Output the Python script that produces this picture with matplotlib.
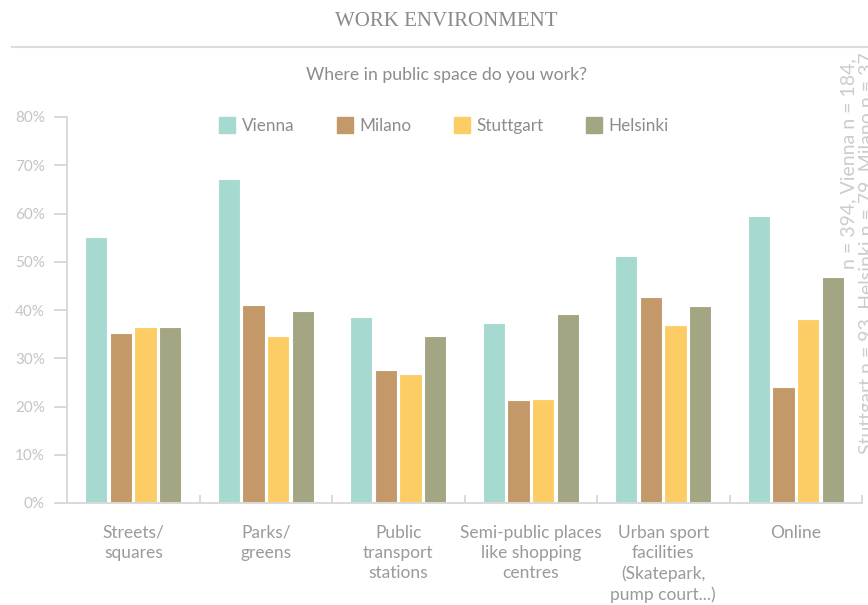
import matplotlib
matplotlib.use("Agg")
import matplotlib.pyplot as plt
from matplotlib.lines import Line2D
import numpy as np

categories = [
    "Streets/\nsquares",
    "Parks/\ngreens",
    "Public\ntransport\nstations",
    "Semi-public places\nlike shopping\ncentres",
    "Urban sport\nfacilities\n(Skatepark,\npump court...)",
    "Online",
]
cities = ["Vienna", "Milano", "Stuttgart", "Helsinki"]
vienna = [55.1, 67.1, 38.5, 37.3, 51.2, 59.5]
milano = [35.2, 41.0, 27.6, 21.3, 42.7, 24.0]
stuttgart = [36.5, 34.6, 26.7, 21.6, 36.9, 38.1]
helsinki = [36.5, 39.8, 34.6, 39.2, 40.8, 46.8]
colors = ["#a6dad0", "#c4996a", "#fdcd65", "#a4a583"]
yticks = [0, 10, 20, 30, 40, 50, 60, 70, 80]
sample_note = ["n = 394, Vienna n = 184,",
               "Stuttgart n = 93, Helsinki n = 79, Milano n = 37"]

plt.rcParams["font.family"] = ["Lato", "DejaVu Sans"]

fig = plt.figure(figsize=(8.68, 6.05), dpi=100)
W, H = 868, 605
ax = fig.add_axes([67 / W, (H - 503) / H, (862 - 67) / W, (503 - 117) / H])

series = [vienna, milano, stuttgart, helsinki]
x = np.arange(len(categories))
step = 0.186
width = 0.168
for i, (vals, col) in enumerate(zip(series, colors)):
    off = (i - 1.5) * step
    ax.bar(x + off, np.array(vals) / 100, width=width, color=col,
           edgecolor="white", linewidth=0.8, label=cities[i], zorder=2)

ax.set_xlim(-0.5, len(categories) - 0.5)
ax.set_ylim(0, 0.8)

spine_col = "#d9d9d9"
for s in ["top", "right"]:
    ax.spines[s].set_visible(False)
for s in ["left", "bottom"]:
    ax.spines[s].set_color(spine_col)
    ax.spines[s].set_linewidth(1.4)

ax.set_yticks([v / 100 for v in yticks])
ax.set_yticklabels([f"{v}%" for v in yticks])
ax.tick_params(axis="y", length=9.4, width=1.4, color=spine_col,
               labelcolor="#c4c4c4", labelsize=11, pad=6.5)

# category boundaries as inward ticks, labels at category centres
ax.set_xticks(np.arange(len(categories) + 1) - 0.5)
ax.set_xticklabels([])
ax.tick_params(axis="x", which="major", direction="in", length=5.8,
               width=1.4, color=spine_col)
ax.set_xticks(x, minor=True)
ax.set_xticklabels(categories, minor=True)
ax.tick_params(axis="x", which="minor", length=0, pad=15.5,
               labelcolor="#9a9a9a", labelsize=12.5)
for lbl in ax.get_xticklabels(minor=True):
    lbl.set_linespacing(1.34)
    lbl.set_verticalalignment("top")

# legend
handles = [Line2D([0], [0], marker="s", linestyle="", markersize=11,
                  markerfacecolor=c, markeredgecolor=c) for c in colors]
leg = fig.legend(handles, cities, loc="center", ncol=4, frameon=False,
                 bbox_to_anchor=(444 / W, 1 - 126 / H),
                 handlelength=0.9, handletextpad=0.4, columnspacing=2.5,
                 prop={"size": 12.3})
for t in leg.get_texts():
    t.set_color("#8c8c8c")

# header
fig.text(446 / W, 1 - 21 / H, "WORK ENVIRONMENT", ha="center", va="center",
         fontsize=15, color="#8a8a8a", family=["Liberation Serif", "DejaVu Serif"])
fig.add_artist(Line2D([12 / W, 1.0], [1 - 47 / H, 1 - 47 / H],
                      color="#dcdcdc", linewidth=1.5))
fig.text(446 / W, 1 - 75 / H, "Where in public space do you work?",
         ha="center", va="center", fontsize=12.7, color="#8c8c8c")

# sample sizes, rotated along the right edge
for xpix, ypix, line in [(849, 58, sample_note[0]), (867, 52, sample_note[1])]:
    fig.text(xpix / W, 1 - ypix / H, line, rotation=90, ha="center",
             va="top", fontsize=14, color="#cccccc")

fig.savefig("out.png", dpi=100)
